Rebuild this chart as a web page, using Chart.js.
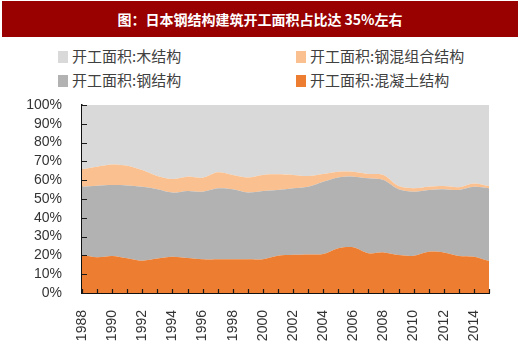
<!DOCTYPE html>
<html>
<head>
<meta charset="utf-8">
<script src="https://cdn.jsdelivr.net/npm/chart.js@4.4.0/dist/chart.umd.min.js"></script>
<style>
  body { margin: 0; background: #fff; }
  #wrap { position: relative; width: 520px; height: 353px; overflow: hidden; }
  #title {
    position: absolute; left: 2px; top: 1px; width: 516px; height: 36px;
    background: #990000; color: #fff; text-align: center;
    font: bold 14px "Noto Sans CJK SC", sans-serif; line-height: 36px;
  }
  .lg { position: absolute; font: 15px "Noto Sans CJK SC", sans-serif; color: #404040; line-height: 20px; white-space: nowrap; }
  .lg i { display: inline-block; width: 10px; height: 12px; margin-right: 4px; vertical-align: -1px; }
  canvas { position: absolute; left: 0; top: 0; }
</style>
</head>
<body>
<div id="wrap">
  <div id="title">图：日本钢结构建筑开工面积占比达 35%左右</div>
  <div class="lg" style="left:58px;top:46px"><i style="background:#d9d9d9"></i>开工面积:木结构</div>
  <div class="lg" style="left:296px;top:46px"><i style="background:#fac090"></i>开工面积:钢混组合结构</div>
  <div class="lg" style="left:58px;top:70px"><i style="background:#b2b2b2"></i>开工面积:钢结构</div>
  <div class="lg" style="left:296px;top:70px"><i style="background:#ed7d31"></i>开工面积:混凝土结构</div>
  <canvas id="c" width="520" height="353"></canvas>
</div>
<script>
// 1988 - 2015, share of started floor area (%)
const years = ['1988','1989','1990','1991','1992','1993','1994','1995','1996','1997','1998','1999','2000','2001',
               '2002','2003','2004','2005','2006','2007','2008','2009','2010','2011','2012','2013','2014','2015'];
const concrete = [20.2,19.0,19.7,18.5,17.2,18.3,19.3,18.6,17.9,18.0,18.0,18.0,18.0,19.8,20.3,20.5,20.7,23.8,24.3,21.1,21.6,20.2,19.8,22.0,21.6,19.7,19.3,17.0];
const steel    = [36.3,38.0,37.7,38.7,39.3,36.9,34.1,35.7,36.0,37.7,37.2,35.5,36.3,35.0,35.4,36.0,38.5,37.7,37.6,39.9,38.5,35.0,34.1,32.8,33.6,35.1,37.2,38.7];
const hybrid   = [9.3,10.2,11.0,10.5,8.9,7.0,7.2,7.6,7.4,8.5,7.6,8.0,8.5,8.3,7.1,5.7,4.1,3.0,2.6,2.3,2.7,1.7,1.8,1.7,1.7,1.5,1.8,1.2];
const wood     = [34.2,32.8,31.6,32.3,34.6,37.8,39.4,38.1,38.7,35.8,37.2,38.5,37.2,36.9,37.2,37.8,36.7,35.5,35.5,36.7,37.2,43.1,44.3,43.5,43.1,43.7,41.7,43.1];

function area(label, data, color, fill) {
  return { label: label, data: data, backgroundColor: color, borderColor: color, borderWidth: 0,
           fill: fill, pointRadius: 0, tension: 0.3 };
}

// small ticks pointing into the plot, like the original
const innerTicks = {
  id: 'innerTicks',
  afterDatasetsDraw(chart) {
    const ctx = chart.ctx, x = chart.scales.x, y = chart.scales.y;
    ctx.save();
    ctx.strokeStyle = '#1a1a1a';
    ctx.lineWidth = 1.2;
    ctx.beginPath();
    for (let v = 0; v <= 100; v += 10) {
      const py = Math.round(y.getPixelForValue(v)) + 0.5;
      ctx.moveTo(x.left, py); ctx.lineTo(x.left + 5, py);
    }
    for (let i = 0; i < years.length; i++) {
      const px = Math.round(x.getPixelForValue(i)) + 0.5;
      ctx.moveTo(px, y.bottom); ctx.lineTo(px, y.bottom - 4);
    }
    ctx.stroke();
    ctx.restore();
  }
};

new Chart(document.getElementById('c'), {
  type: 'line',
  data: {
    labels: years,
    datasets: [
      area('开工面积:混凝土结构', concrete, '#ed7d31', 'origin'),
      area('开工面积:钢结构', steel, '#b2b2b2', '-1'),
      area('开工面积:钢混组合结构', hybrid, '#fac090', '-1'),
      area('开工面积:木结构', wood, '#d9d9d9', '-1')
    ]
  },
  options: {
    responsive: false,
    animation: false,
    layout: { padding: { top: 105, right: 31, left: 0, bottom: 0 } },
    plugins: { legend: { display: false }, tooltip: { enabled: false } },
    scales: {
      x: {
        offset: false,
        grid: { display: false },
        border: { display: true, color: '#111', width: 2 },
        ticks: {
          autoSkip: false, minRotation: 90, maxRotation: 90, padding: 9,
          color: '#333', font: { family: 'Arial, "Liberation Sans"', size: 14 },
          callback: function (v, i) { return i % 2 === 0 ? years[i] : ''; }
        },
        afterFit: function (s) { s.height = 60; }
      },
      y: {
        stacked: true, min: 0, max: 100,
        grid: { display: false },
        border: { display: true, color: '#111', width: 1.5 },
        ticks: {
          stepSize: 10, autoSkip: false, padding: 12,
          color: '#333', font: { family: 'Arial, "Liberation Sans"', size: 14 },
          callback: function (v) { return v + '%'; }
        },
        afterFit: function (s) { s.width = 82; }
      }
    }
  },
  plugins: [innerTicks]
});
</script>
</body>
</html>
